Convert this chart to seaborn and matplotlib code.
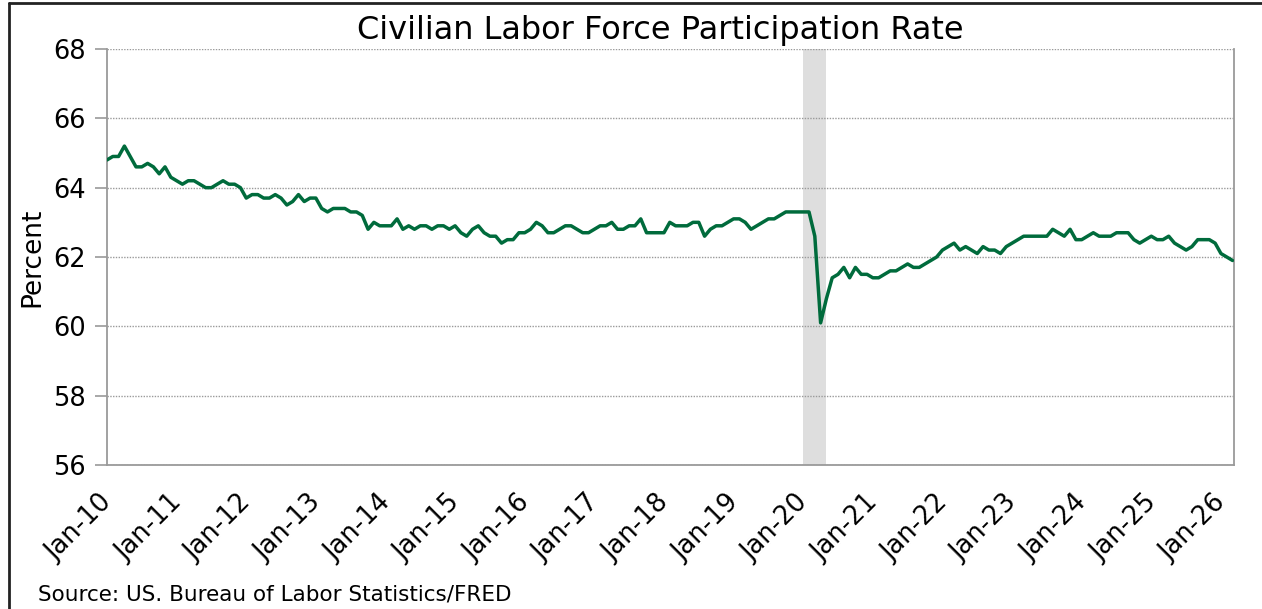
import numpy as np
import pandas as pd
import matplotlib
matplotlib.use("Agg")
import matplotlib.pyplot as plt
import matplotlib.transforms as mtransforms
from matplotlib.lines import Line2D
import seaborn as sns

# Monthly civilian labor force participation rate (%), Jan 2010 onward
rate_2010 = [64.8, 64.9, 64.9, 65.2, 64.9, 64.6, 64.6, 64.7, 64.6, 64.4, 64.6, 64.3]
rate_2011 = [64.2, 64.1, 64.2, 64.2, 64.1, 64.0, 64.0, 64.1, 64.2, 64.1, 64.1, 64.0]
rate_2012 = [63.7, 63.8, 63.8, 63.7, 63.7, 63.8, 63.7, 63.5, 63.6, 63.8, 63.6, 63.7]
rate_2013 = [63.7, 63.4, 63.3, 63.4, 63.4, 63.4, 63.3, 63.3, 63.2, 62.8, 63.0, 62.9]
rate_2014 = [62.9, 62.9, 63.1, 62.8, 62.9, 62.8, 62.9, 62.9, 62.8, 62.9, 62.9, 62.8]
rate_2015 = [62.9, 62.7, 62.6, 62.8, 62.9, 62.7, 62.6, 62.6, 62.4, 62.5, 62.5, 62.7]
rate_2016 = [62.7, 62.8, 63.0, 62.9, 62.7, 62.7, 62.8, 62.9, 62.9, 62.8, 62.7, 62.7]
rate_2017 = [62.8, 62.9, 62.9, 63.0, 62.8, 62.8, 62.9, 62.9, 63.1, 62.7, 62.7, 62.7]
rate_2018 = [62.7, 63.0, 62.9, 62.9, 62.9, 63.0, 63.0, 62.6, 62.8, 62.9, 62.9, 63.0]
rate_2019 = [63.1, 63.1, 63.0, 62.8, 62.9, 63.0, 63.1, 63.1, 63.2, 63.3, 63.3, 63.3]
rate_2020 = [63.3, 63.3, 62.6, 60.1, 60.8, 61.4, 61.5, 61.7, 61.4, 61.7, 61.5, 61.5]
rate_2021 = [61.4, 61.4, 61.5, 61.6, 61.6, 61.7, 61.8, 61.7, 61.7, 61.8, 61.9, 62.0]
rate_2022 = [62.2, 62.3, 62.4, 62.2, 62.3, 62.2, 62.1, 62.3, 62.2, 62.2, 62.1, 62.3]
rate_2023 = [62.4, 62.5, 62.6, 62.6, 62.6, 62.6, 62.6, 62.8, 62.7, 62.6, 62.8, 62.5]
rate_2024 = [62.5, 62.6, 62.7, 62.6, 62.6, 62.6, 62.7, 62.7, 62.7, 62.5, 62.4, 62.5]
rate_2025 = [62.6, 62.5, 62.5, 62.6, 62.4, 62.3, 62.2, 62.3, 62.5, 62.5, 62.5, 62.4]
rate_2026 = [62.1, 62.0, 61.9]

tick_labels = ["Jan-10", "Jan-11", "Jan-12", "Jan-13", "Jan-14", "Jan-15", "Jan-16",
               "Jan-17", "Jan-18", "Jan-19", "Jan-20", "Jan-21", "Jan-22", "Jan-23",
               "Jan-24", "Jan-25", "Jan-26"]
y_ticks = [56, 58, 60, 62, 64, 66, 68]
recession_start = "2020-01"
recession_end = "2020-05"

values = (rate_2010 + rate_2011 + rate_2012 + rate_2013 + rate_2014 + rate_2015 +
          rate_2016 + rate_2017 + rate_2018 + rate_2019 + rate_2020 + rate_2021 +
          rate_2022 + rate_2023 + rate_2024 + rate_2025 + rate_2026)
dates = pd.period_range("2010-01", periods=len(values), freq="M")
base = pd.Period("2010-01", freq="M")
df = pd.DataFrame({"month": [(d - base).n for d in dates], "rate": values})

sns.set_theme(style="white")
plt.rcParams['font.family'] = ['DejaVu Sans']
plt.rcParams['text.color'] = 'black'
plt.rcParams['axes.labelcolor'] = 'black'
plt.rcParams['xtick.color'] = 'black'
plt.rcParams['ytick.color'] = 'black'

W, H = 1262, 609
fig = plt.figure(figsize=(W / 100, H / 100), dpi=100)
fig.patch.set_facecolor("white")
ax = fig.add_axes([107 / W, (H - 465) / H, (1233.7 - 107) / W, (465 - 49) / H])

rs = (pd.Period(recession_start, freq="M") - base).n
re_ = (pd.Period(recession_end, freq="M") - base).n
ax.axvspan(rs, re_, color="#DEDEDE", lw=0, zorder=0)

sns.lineplot(data=df, x="month", y="rate", ax=ax, color="#006B3C", lw=2.5, zorder=3)

ax.set_xlim(0, 194.2)
ax.set_ylim(56, 68)
ax.set_yticks(y_ticks)
ax.set_yticklabels([str(v) for v in y_ticks], fontsize=18.5, color="black")
ax.set_xticks([12 * i for i in range(len(tick_labels))])
ax.set_xticklabels(tick_labels, fontsize=18.5, rotation=45, ha="right",
                   va="top", rotation_mode="anchor", color="black")
ax.tick_params(axis="x", length=0, pad=18)
ax.tick_params(axis="y", length=9, width=1.2, color="#9A9A9A", pad=6, left=True,
               labelcolor="black")
shift = mtransforms.ScaledTranslation(-8 / 100, 0, fig.dpi_scale_trans)
for lbl in ax.get_xticklabels():
    lbl.set_transform(lbl.get_transform() + shift)

ax.grid(axis="y", linestyle=(0, (1, 1)), color="#9A9A9A", lw=1.0)
ax.grid(axis="x", visible=False)
for side in ["left", "right", "bottom"]:
    ax.spines[side].set_visible(True)
    ax.spines[side].set_color("#9A9A9A")
    ax.spines[side].set_linewidth(1.3)
ax.spines["top"].set_visible(False)

ax.set_xlabel("")
ax.set_ylabel("Percent", fontsize=19, labelpad=6, color="black")

fig.text(660 / W, 1 - 30 / H, "Civilian Labor Force Participation Rate",
         ha="center", va="center", fontsize=23, color="black")
fig.text(38 / W, 1 - 595 / H, "Source: US. Bureau of Labor Statistics/FRED",
         ha="left", va="center", fontsize=15.5, color="black")

# outer frame (top and left edges visible in the reference crop)
fig.add_artist(Line2D([9 / W, 1], [1 - 3 / H, 1 - 3 / H], transform=fig.transFigure,
                      color="#222222", lw=2))
fig.add_artist(Line2D([9 / W, 9 / W], [0, 1 - 3 / H], transform=fig.transFigure,
                      color="#222222", lw=2))

fig.savefig("out.png", dpi=100)
